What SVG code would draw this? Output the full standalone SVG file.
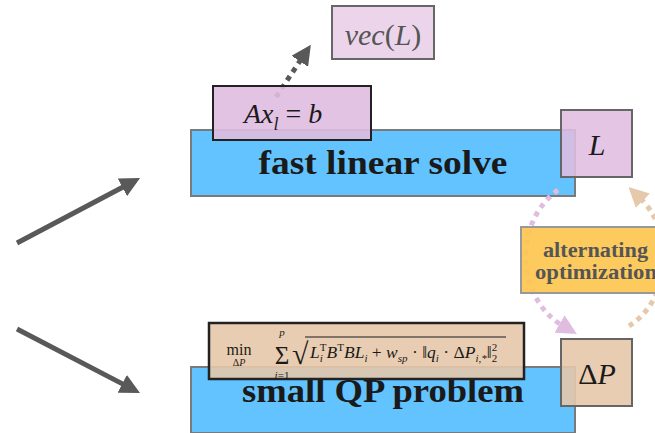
<svg xmlns="http://www.w3.org/2000/svg" width="655" height="433" viewBox="0 0 655 433">
<style>
.serif{font-family:"Liberation Serif","DejaVu Serif",serif}
.blue{fill:#62c3fe;stroke:#7a7a7a;stroke-width:2}
.big{font-family:"Liberation Serif","DejaVu Serif",serif;font-weight:bold;font-size:33px;fill:#1a1a1a;text-anchor:middle}
.math{font-family:"Liberation Serif","DejaVu Serif",serif;font-style:italic;font-size:30px;fill:#1a1a1a}
.fm{font-family:"Liberation Serif","DejaVu Serif",serif;font-style:italic;font-size:17.5px;fill:#1a1a1a}
.up{font-style:normal}
.sm{font-size:11px}
.solid{stroke:#595959;stroke-width:5;fill:none}
.dot{stroke-width:5;fill:none;stroke-dasharray:5 5}
</style>
<defs>
<marker id="ahG" viewBox="0 0 10 10" refX="2" refY="5" markerWidth="4" markerHeight="4" orient="auto"><path d="M0,0 L10,5 L0,10 z" fill="#595959"/></marker>
<marker id="ahP" viewBox="0 0 10 10" refX="2" refY="5" markerWidth="4" markerHeight="4" orient="auto"><path d="M0,0 L10,5 L0,10 z" fill="#e0bde0"/></marker>
<marker id="ahT" viewBox="0 0 10 10" refX="2" refY="5" markerWidth="4" markerHeight="4" orient="auto"><path d="M0,0 L10,5 L0,10 z" fill="#e6c8aa"/></marker>
</defs>

<g id="solve">
<rect class="blue" x="191" y="130" width="384" height="66"/>
<text class="big" x="383" y="174" textLength="249" lengthAdjust="spacingAndGlyphs">fast linear solve</text>
</g>
<g id="qp">
<rect class="blue" x="191" y="367" width="384" height="66"/>
<text class="big" x="383" y="402" textLength="282" lengthAdjust="spacingAndGlyphs">small QP problem</text>
</g>

<g id="connectors">
<line class="solid" x1="17" y1="243" x2="125.9" y2="185.5" marker-end="url(#ahG)"/>
<line class="solid" x1="17" y1="329" x2="125.8" y2="385.6" marker-end="url(#ahG)"/>
<line class="dot" stroke="#595959" x1="276" y1="97" x2="302" y2="58" marker-end="url(#ahG)"/>
<path class="dot" stroke="#e0bde0" d="M558,190 A68,78 0 0 0 563,326" marker-end="url(#ahP)"/>
<path class="dot" stroke="#e6c8aa" d="M629,326 A68,78 0 0 0 640,198" marker-end="url(#ahT)"/>
</g>

<g id="vec">
<rect x="332" y="6" width="102" height="53" fill="#ecd5eb" stroke="#666" stroke-width="2"/>
<text class="math" x="383" y="45" text-anchor="middle" style="fill:#555">vec<tspan class="up">(</tspan>L<tspan class="up">)</tspan></text>
</g>

<g id="axb">
<rect x="213" y="86" width="158" height="54" fill="#e0bde0" fill-opacity="0.9" stroke="#222" stroke-width="2"/>
<text class="math" x="244" y="123" style="font-size:28px">A<tspan>x</tspan><tspan style="font-size:18px" dy="7">l</tspan><tspan class="up" dy="-7"> = </tspan>b</text>
</g>

<g id="L">
<rect x="561" y="110" width="71" height="67" fill="#e0bde0" fill-opacity="0.88" stroke="#666" stroke-width="2"/>
<text class="math" x="597" y="155" text-anchor="middle">L</text>
</g>

<g id="dP">
<rect x="561" y="339" width="71" height="67" fill="#e6c8aa" fill-opacity="0.9" stroke="#666" stroke-width="2"/>
<text class="math" x="597" y="384" text-anchor="middle"><tspan class="up">Δ</tspan>P</text>
</g>

<g id="alt">
<rect x="521" y="227" width="150" height="66" fill="#fdc550" fill-opacity="0.92" stroke="#999" stroke-width="2"/>
<text class="serif" x="595.5" y="257" text-anchor="middle" font-weight="bold" font-size="20" fill="#555" textLength="105" lengthAdjust="spacingAndGlyphs">alternating</text>
<text class="serif" x="596" y="279" text-anchor="middle" font-weight="bold" font-size="20" fill="#555" textLength="122" lengthAdjust="spacingAndGlyphs">optimization</text>
</g>

<g id="formula">
<rect x="209" y="323" width="315" height="56" fill="#e6c8aa" fill-opacity="0.9" stroke="#222" stroke-width="2.5"/>
<text class="serif" x="239" y="355" text-anchor="middle" font-size="16" fill="#1a1a1a">min</text>
<text class="serif" x="239" y="366" text-anchor="middle" font-size="10" fill="#1a1a1a">Δ<tspan font-style="italic">P</tspan></text>
<text class="serif" x="282" y="364" text-anchor="middle" font-size="25" fill="#1a1a1a">Σ</text>
<text class="fm sm" x="282" y="336" text-anchor="middle">p</text>
<text class="fm sm" x="282" y="379" text-anchor="middle">i<tspan class="up">=1</tspan></text>
<text class="serif" x="292" y="364" font-size="30" fill="#1a1a1a">√</text>
<line x1="305" y1="337" x2="506" y2="337" stroke="#1a1a1a" stroke-width="1"/>
<text class="fm" x="310" y="358">L<tspan class="sm" dy="4">i</tspan><tspan class="sm up" dx="-3" dy="-11">T</tspan><tspan dy="7">B</tspan><tspan class="sm up" dy="-7">T</tspan><tspan dy="7">BL</tspan><tspan class="sm" dy="4">i</tspan><tspan class="up" dy="-4"> + </tspan>w<tspan class="sm" dy="4">sp</tspan><tspan class="up" dy="-4"> · ‖</tspan>q<tspan class="sm" dy="4">i</tspan><tspan class="up" dy="-4"> · Δ</tspan>P<tspan class="sm" dy="4">i,*</tspan><tspan class="up" dy="-4">‖</tspan><tspan class="sm up" dy="4">2</tspan><tspan class="sm up" dx="-5.5" dy="-11">2</tspan></text>
</g>
</svg>
